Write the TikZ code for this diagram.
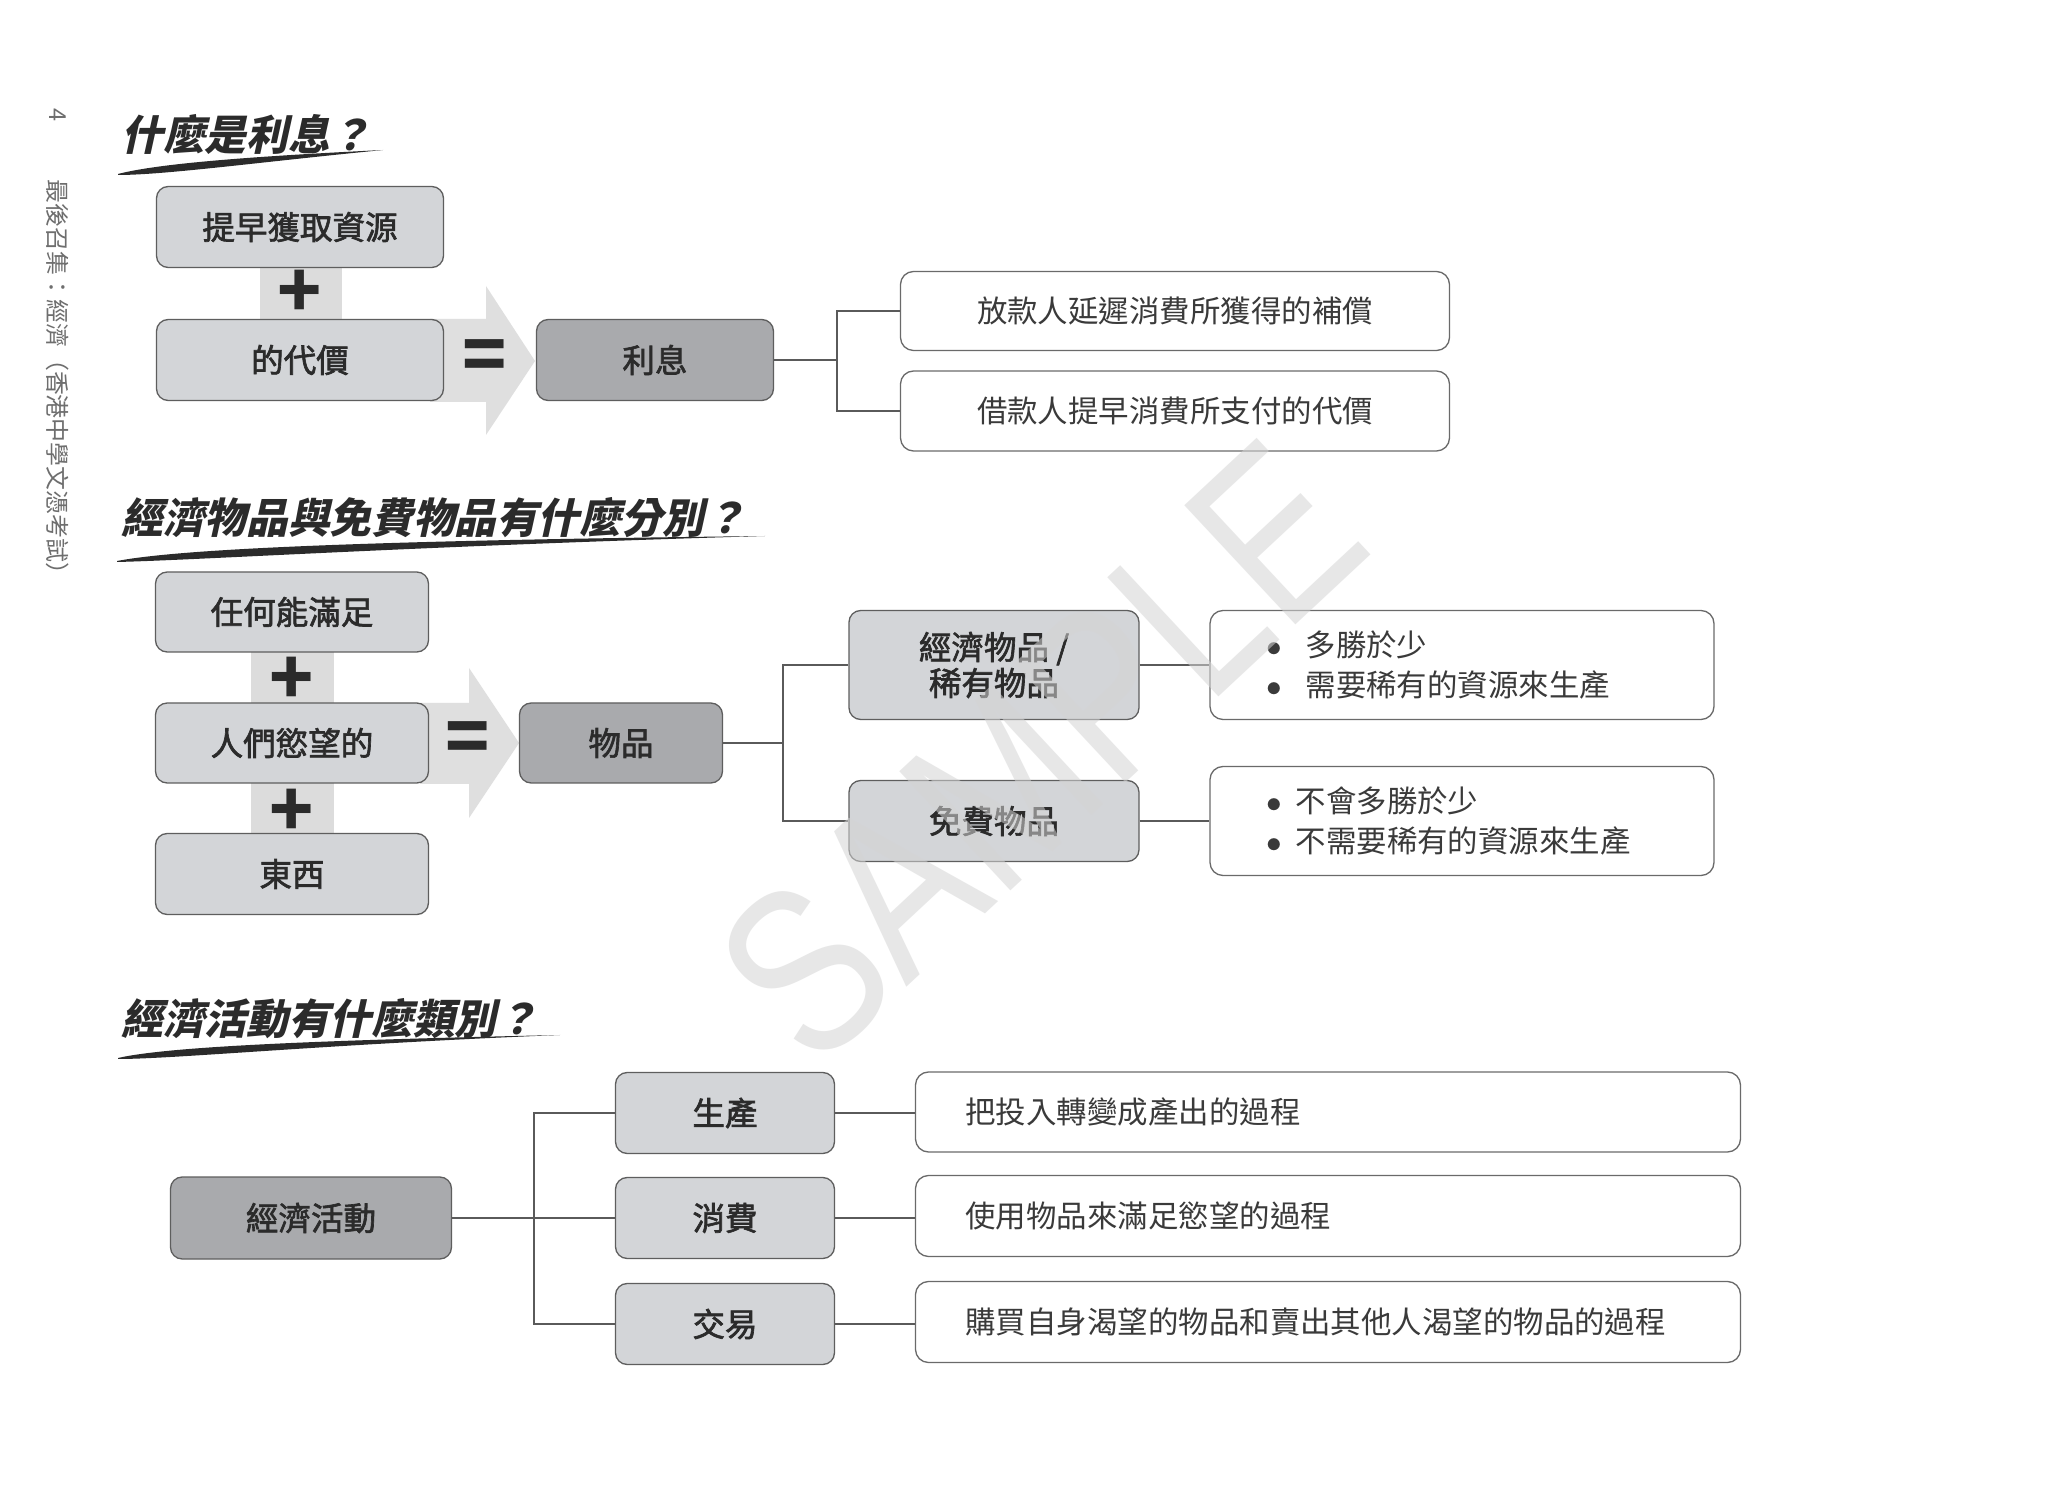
\documentclass[tikz,border=0pt]{standalone}
\usepackage{fontspec}
\newfontfamily\cjk{Noto Sans CJK TC}
\newfontfamily\cjkmid{Noto Sans CJK TC}[FakeBold=2]
\newfontfamily\cjkslant{Noto Sans CJK TC}[FakeSlant=0.22]
\newfontfamily\markfont{Liberation Sans}
\newlength\unitpx
\setlength\unitpx{0.0135cm}
\definecolor{boxfill}{HTML}{D3D5D8}
\definecolor{boxdark}{HTML}{A9AAAD}
\definecolor{boxline}{HTML}{5E5E5E}
\definecolor{noteline}{HTML}{6A6A6A}
\definecolor{linkcol}{HTML}{5A5A5A}
\definecolor{bandcol}{HTML}{DCDCDC}
\definecolor{arrowcol}{HTML}{DFDFDF}
\definecolor{inkcol}{HTML}{2B2B2B}
\definecolor{notecol}{HTML}{3A3A3A}
\definecolor{sidecol}{HTML}{6E6E6E}
\definecolor{markcol}{HTML}{D4D4D4}
\tikzset{
  greybox/.style={draw=boxline, fill=boxfill, line width=0.5pt, rounded corners=4.5pt,
    inner sep=0pt, text=inkcol, align=center,
    font=\cjkmid\fontsize{12.5}{13.8}\selectfont},
  darkbox/.style={greybox, fill=boxdark},
  notebox/.style={draw=noteline, fill=white, line width=0.5pt, rounded corners=5pt,
    inner sep=0pt, text=notecol, font=\cjk\fontsize{11.7}{15.7}\selectfont},
  link/.style={draw=linkcol, line width=0.5pt},
  band/.style={fill=bandcol},
  bigarrow/.style={fill=arrowcol},
  sign/.style={inner sep=0pt, text=inkcol, font=\cjk\bfseries\fontsize{28}{28}\selectfont},
  heading/.style={anchor=west, inner sep=0pt, text=inkcol,
    font=\cjkslant\bfseries\fontsize{16}{16}\selectfont},
  brush/.style={fill=inkcol}
}
\begin{document}
\begin{tikzpicture}[x=0.0135cm, y=-0.0135cm]
  \fill[white] (0,0) rectangle (2048,1497);
  \useasboundingbox (0,0) rectangle (2048,1497);
  % side margin
  \node[rotate=-90, inner sep=0pt, text=sidecol, font=\cjk\fontsize{9}{9}\selectfont] (pageno) at (58,115) {4};
  \node[rotate=-90, inner sep=0pt, text=sidecol, font=\cjk\fontsize{9.2}{9.2}\selectfont] (side) at (58,383)
    {最後召集：經濟（香港中學文憑考試）};

  % what is interest
  \node[heading] (title1) at (121,134) {什麼是利息？};
  \fill[brush] (118,174) .. controls (160,163) and (260,156) .. (383,150)
    .. controls (260,162) and (165,175) .. (118,175) -- cycle;
  \fill[band] (260,268) rectangle (342,320);
  \fill[bigarrow] (430,319) -- (486,319) -- (486,286) -- (535,361) -- (486,435) -- (486,402) -- (430,402) -- cycle;
  \node[greybox, minimum width=287\unitpx, minimum height=81\unitpx] (early) at (300,227) {提早獲取資源};
  \node[greybox, minimum width=287\unitpx, minimum height=81\unitpx] (price) at (300,360) {的代價};
  \node[sign] (plus1) at (300,294) {+};
  \node[sign] (eq1) at (485,361) {=};
  \node[darkbox, minimum width=237\unitpx, minimum height=81\unitpx] (interest) at (655,360) {利息};
  \node[notebox, minimum width=549\unitpx, minimum height=79\unitpx] (lend) at (1175,311) {放款人延遲消費所獲得的補償};
  \node[notebox, minimum width=549\unitpx, minimum height=80\unitpx] (borrow) at (1175,411) {借款人提早消費所支付的代價};
  \coordinate (fork1) at (837,360);
  \draw[link] (interest.east) -- (fork1) |- (lend.west);
  \draw[link] (fork1) |- (borrow.west);

  % economic goods and free goods
  \node[heading] (title2) at (121,518) {經濟物品與免費物品有什麼分別？};
  \fill[brush] (117,561) .. controls (190,547) and (420,540) .. (765,536)
    .. controls (420,546) and (200,560) .. (117,562) -- cycle;
  \fill[band] (251,652) rectangle (334,703);
  \fill[band] (251,783) rectangle (334,833);
  \fill[bigarrow] (420,703) -- (469,703) -- (469,668) -- (519,743) -- (469,818) -- (469,784) -- (420,784) -- cycle;
  \node[greybox, minimum width=273\unitpx, minimum height=80\unitpx] (any) at (292,612) {任何能滿足};
  \node[greybox, minimum width=273\unitpx, minimum height=80\unitpx] (desire) at (292,743) {人們慾望的};
  \node[greybox, minimum width=273\unitpx, minimum height=81\unitpx] (thing) at (292,874) {東西};
  \node[sign] (plus2) at (292,681) {+};
  \node[sign] (plus3) at (292,813) {+};
  \node[sign] (eq2) at (468,743) {=};
  \node[darkbox, minimum width=203\unitpx, minimum height=80\unitpx] (goods) at (621,743) {物品};
  \node[greybox, minimum width=290\unitpx, minimum height=109\unitpx] (econ) at (994,665) {經濟物品 /\\稀有物品};
  \node[greybox, minimum width=290\unitpx, minimum height=81\unitpx] (free) at (994,821) {免費物品};
  \node[notebox, minimum width=504\unitpx, minimum height=109\unitpx, text width=392\unitpx,
    inner xsep=56\unitpx, align=left] (econnote) at (1462,665)
    {$\bullet$\hspace{9.2pt}多勝於少\\$\bullet$\hspace{9.2pt}需要稀有的資源來生產};
  \node[notebox, minimum width=504\unitpx, minimum height=109\unitpx, text width=392\unitpx,
    inner xsep=56\unitpx, align=left] (freenote) at (1462,821)
    {$\bullet$\hspace{5.4pt}不會多勝於少\\$\bullet$\hspace{5.4pt}不需要稀有的資源來生產};
  \coordinate (fork2) at (783,743);
  \draw[link] (goods.east) -- (fork2) |- (econ.west);
  \draw[link] (fork2) |- (free.west);
  \draw[link] (econ.east) -- (econnote.west);
  \draw[link] (free.east) -- (freenote.west);

  % kinds of economic activity
  \node[heading] (title3) at (121,1019) {經濟活動有什麼類別？};
  \fill[brush] (118,1058) .. controls (170,1046) and (330,1040) .. (560,1035)
    .. controls (330,1044) and (175,1059) .. (118,1059) -- cycle;
  \node[darkbox, minimum width=281\unitpx, minimum height=82\unitpx] (act) at (311,1218) {經濟活動};
  \node[greybox, minimum width=219\unitpx, minimum height=81\unitpx] (prod) at (725,1113) {生產};
  \node[greybox, minimum width=219\unitpx, minimum height=81\unitpx] (cons) at (725,1218) {消費};
  \node[greybox, minimum width=219\unitpx, minimum height=81\unitpx] (trade) at (725,1324) {交易};
  \node[notebox, minimum width=825\unitpx, minimum height=80\unitpx, text width=725\unitpx,
    inner xsep=50\unitpx, align=left] (prodnote) at (1328,1112) {把投入轉變成產出的過程};
  \node[notebox, minimum width=825\unitpx, minimum height=81\unitpx, text width=725\unitpx,
    inner xsep=50\unitpx, align=left] (consnote) at (1328,1216) {使用物品來滿足慾望的過程};
  \node[notebox, minimum width=825\unitpx, minimum height=81\unitpx, text width=725\unitpx,
    inner xsep=50\unitpx, align=left] (tradenote) at (1328,1322) {購買自身渴望的物品和賣出其他人渴望的物品的過程};
  \coordinate (fork3) at (534,1218);
  \draw[link] (act.east) -- (cons.west);
  \draw[link] (fork3) |- (prod.west);
  \draw[link] (fork3) |- (trade.west);
  \draw[link] (prod.east) -- (prod.east -| prodnote.west);
  \draw[link] (cons.east) -- (cons.east -| consnote.west);
  \draw[link] (trade.east) -- (trade.east -| tradenote.west);

  % watermark
  \node[rotate=43, xscale=0.8, inner sep=0pt, text=markcol, opacity=0.55,
    font=\markfont\fontsize{91}{91}\selectfont] (mark) at (1040,752) {SAMPLE};
\end{tikzpicture}
\end{document}
